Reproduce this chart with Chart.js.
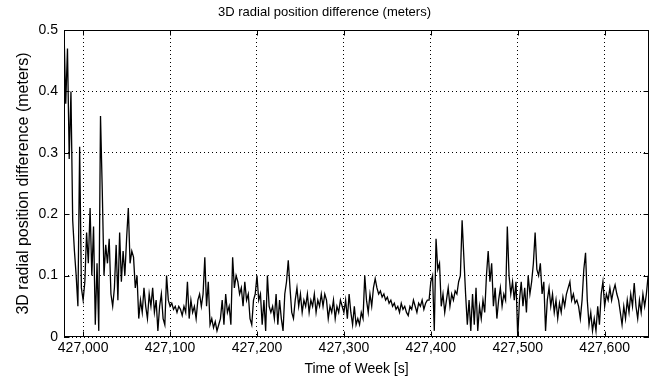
<!DOCTYPE html>
<html>
<head>
<meta charset="utf-8">
<script src="https://cdn.jsdelivr.net/npm/chart.js@4.4.0/dist/chart.umd.min.js"></script>
<style>
  html, body { margin: 0; padding: 0; background: #fff; }
</style>
</head>
<body>
<canvas id="c" width="657" height="383"></canvas>
<script>
const chartTitle = '3D radial position difference (meters)';
const xTitle = 'Time of Week [s]';
const yTitle = '3D radial position difference (meters)';
const xTicks = [427000, 427100, 427200, 427300, 427400, 427500, 427600];
const yTicks = [0, 0.1, 0.2, 0.3, 0.4, 0.5];

// samples every 2 s starting at 426,978 s
const tStart = 426978;
const tStep = 2;
const radialDiff = [
  0.50, 0.38, 0.47, 0.29, 0.40, 0.19, 0.14, 0.10, 0.05, 0.31,
  0.08, 0.06, 0.09, 0.17, 0.12, 0.21, 0.10, 0.18, 0.02, 0.12,
  0.01, 0.36, 0.24, 0.10, 0.15, 0.12, 0.16, 0.07, 0.05, 0.08,
  0.15, 0.06, 0.17, 0.09, 0.14, 0.10, 0.16, 0.21, 0.12, 0.14,
  0.13, 0.08, 0.10, 0.03, 0.06, 0.04, 0.08, 0.05, 0.03, 0.07,
  0.05, 0.08, 0.04, 0.06, 0.01, 0.05, 0.07, 0.03, 0.02, 0.10,
  0.06, 0.05, 0.055, 0.045, 0.05, 0.04, 0.05, 0.045, 0.035, 0.05,
  0.04, 0.09, 0.03, 0.06, 0.04, 0.05, 0.03, 0.06, 0.07, 0.05,
  0.07, 0.13, 0.05, 0.09, 0.02, 0.03, 0.015, 0.025, 0.01, 0.02,
  0.03, 0.06, 0.02, 0.07, 0.04, 0.05, 0.02, 0.13, 0.08, 0.10,
  0.09, 0.07, 0.08, 0.05, 0.09, 0.06, 0.07, 0.03, 0.02, 0.06,
  0.07, 0.10, 0.06, 0.07, 0.02, 0.06, 0.01, 0.10, 0.05, 0.04,
  0.05, 0.03, 0.07, 0.02, 0.06, 0.03, 0.01, 0.07, 0.09, 0.125,
  0.08, 0.04, 0.03, 0.06, 0.08, 0.05, 0.07, 0.04, 0.06, 0.05,
  0.07, 0.04, 0.06, 0.05, 0.07, 0.04, 0.06, 0.05, 0.07, 0.05,
  0.07, 0.06, 0.03, 0.05, 0.04, 0.06, 0.03, 0.05, 0.04, 0.06,
  0.05, 0.04, 0.06, 0.03, 0.07, 0.04, 0.02, 0.05, 0.02, 0.03,
  0.02, 0.04, 0.03, 0.10, 0.06, 0.04, 0.07, 0.05, 0.08, 0.095,
  0.08, 0.07, 0.075, 0.065, 0.07, 0.06, 0.065, 0.055, 0.06, 0.05,
  0.055, 0.045, 0.05, 0.04, 0.055, 0.045, 0.05, 0.04, 0.035, 0.05,
  0.045, 0.06, 0.05, 0.04, 0.055, 0.05, 0.06, 0.045, 0.055, 0.06,
  0.06, 0.09, 0.10, 0.01, 0.16, 0.11, 0.12, 0.05, 0.07, 0.04,
  0.06, 0.08, 0.05, 0.07, 0.06, 0.075, 0.07, 0.09, 0.10, 0.19,
  0.13, 0.07, 0.02, 0.06, 0.01, 0.07, 0.02, 0.08, 0.01, 0.05,
  0.03, 0.06, 0.04, 0.10, 0.14, 0.09, 0.12, 0.05, 0.08, 0.03,
  0.06, 0.08, 0.05, 0.07, 0.06, 0.18, 0.10, 0.07, 0.09, 0.06,
  0.09, 0.00, 0.06, 0.09, 0.05, 0.08, 0.04, 0.10, 0.07, 0.09,
  0.12, 0.17, 0.11, 0.10, 0.12, 0.07, 0.09, 0.01, 0.06, 0.08,
  0.05, 0.07, 0.04, 0.06, 0.03, 0.055, 0.04, 0.065, 0.05, 0.07,
  0.08, 0.09, 0.06, 0.07, 0.055, 0.06, 0.05, 0.03, 0.06, 0.11,
  0.137, 0.06, 0.02, 0.04, 0.01, 0.03, 0.01, 0.05, 0.02, 0.07,
  0.09, 0.05, 0.07, 0.06, 0.08, 0.06, 0.075, 0.085, 0.07, 0.06,
  0.04, 0.02, 0.05, 0.03, 0.06, 0.04, 0.07, 0.05, 0.088, 0.05,
  0.03, 0.06, 0.04, 0.07, 0.05, 0.07, 0.10
];

const points = radialDiff.map((v, i) => ({ x: tStart + i * tStep, y: v }));

Chart.defaults.font.family = "'Liberation Sans', Arial, sans-serif";
Chart.defaults.color = '#000';

// matlab style box with inward tick marks
const boxPlugin = {
  id: 'box',
  afterDatasetsDraw(chart) {
    const { ctx, chartArea: a, scales: { x, y } } = chart;
    const L = Math.round(a.left) + 0.5, R = Math.round(a.right) - 0.5;
    const T = Math.round(a.top) + 0.5, B = Math.round(a.bottom) - 0.5;
    ctx.save();
    ctx.strokeStyle = '#000';
    ctx.lineWidth = 1;
    ctx.strokeRect(L, T, R - L, B - T);
    ctx.beginPath();
    xTicks.forEach(v => {
      const px = Math.round(x.getPixelForValue(v)) + 0.5;
      ctx.moveTo(px, B); ctx.lineTo(px, B - 5);
      ctx.moveTo(px, T); ctx.lineTo(px, T + 5);
    });
    yTicks.forEach(v => {
      const py = Math.round(y.getPixelForValue(v)) + 0.5;
      ctx.moveTo(L, py); ctx.lineTo(L + 5, py);
      ctx.moveTo(R, py); ctx.lineTo(R - 5, py);
    });
    ctx.stroke();
    ctx.restore();
  }
};

new Chart(document.getElementById('c'), {
  type: 'line',
  data: {
    datasets: [{
      data: points,
      borderColor: '#000',
      borderWidth: 1.3,
      pointRadius: 0,
      tension: 0,
      fill: false
    }]
  },
  options: {
    responsive: false,
    animation: false,
    layout: { padding: { left: 0, right: 8, top: 0, bottom: 0 } },
    plugins: {
      legend: { display: false },
      tooltip: { enabled: false },
      title: {
        display: true,
        text: chartTitle,
        color: '#000',
        font: { size: 13, weight: 'normal' },
        padding: { top: 5, bottom: 9.4 }
      }
    },
    scales: {
      x: {
        type: 'linear',
        min: 426978,
        max: 427651,
        afterFit: s => { s.height = 46; },
        afterBuildTicks: s => { s.ticks = xTicks.map(v => ({ value: v })); },
        ticks: {
          autoSkip: false,
          maxRotation: 0,
          padding: 3,
          font: { size: 14 },
          callback: v => v.toLocaleString('en-US')
        },
        grid: { color: '#000', lineWidth: 1, drawTicks: false },
        border: { display: false, dash: [1, 3] },
        title: { display: true, text: xTitle, font: { size: 14 }, padding: { top: 0, bottom: 5 } }
      },
      y: {
        min: 0,
        max: 0.5,
        afterFit: s => { s.width = 64; },
        afterBuildTicks: s => { s.ticks = yTicks.map(v => ({ value: v })); },
        ticks: {
          autoSkip: false,
          padding: 6,
          font: { size: 14 },
          callback: v => String(v)
        },
        grid: { color: '#000', lineWidth: 1, drawTicks: false },
        border: { display: false, dash: [1, 3] },
        title: { display: true, text: yTitle, font: { size: 16 }, padding: { top: 14, bottom: 0 } }
      }
    }
  },
  plugins: [boxPlugin]
});
</script>
</body>
</html>
